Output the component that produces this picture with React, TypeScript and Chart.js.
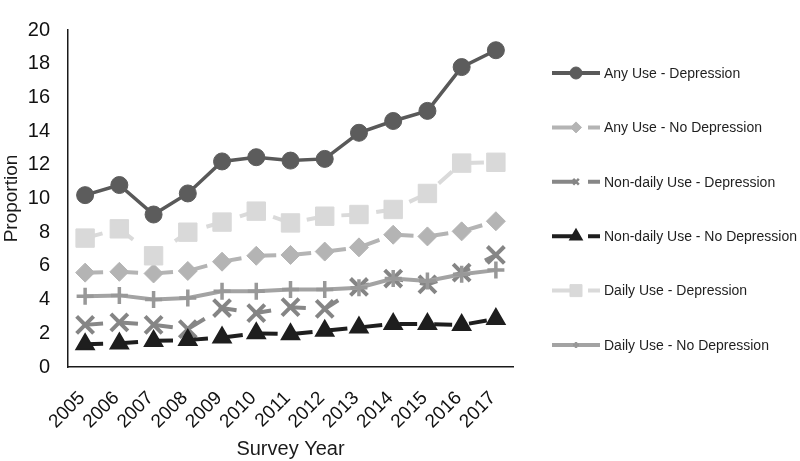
import React, { useEffect, useRef } from "react";
import { Chart, registerables } from "chart.js";
import { drawPoint } from "chart.js/helpers";

Chart.register(...registerables);

const years = ["2005","2006","2007","2008","2009","2010","2011","2012","2013","2014","2015","2016","2017"];
const anyDep = [10.2, 10.8, 9.05, 10.3, 12.2, 12.45, 12.25, 12.35, 13.9, 14.6, 15.2, 17.8, 18.8];
const anyNoDep = [5.6, 5.65, 5.55, 5.7, 6.25, 6.6, 6.65, 6.85, 7.1, 7.85, 7.75, 8.05, 8.65];
const nonDailyDep = [2.5, 2.65, 2.5, 2.25, 3.5, 3.2, 3.55, 3.45, 4.75, 5.25, 4.9, 5.6, 6.65];
const nonDailyNoDep = [1.35, 1.4, 1.55, 1.6, 1.75, 2.0, 1.95, 2.15, 2.35, 2.55, 2.55, 2.5, 2.85];
const dailyDep = [7.65, 8.2, 6.6, 8.0, 8.6, 9.25, 8.55, 8.95, 9.05, 9.35, 10.3, 12.1, 12.15];
const dailyNoDep = [4.2, 4.25, 4.0, 4.1, 4.5, 4.5, 4.6, 4.6, 4.7, 5.25, 5.1, 5.5, 5.75];
const yTicks = [0, 2, 4, 6, 8, 10, 12, 14, 16, 18, 20];

const FONT = "'Liberation Sans', Arial, sans-serif";

type S = {
  label: string; data: number[]; color: string; markColor: string; style: string;
  radius: number; pbw: number; dash: number[]; lr: number;
};

const series: S[] = [
  { label: "Any Use - Depression", data: anyDep, color: "#595959", markColor: "#5c5c5c", style: "circle", radius: 8.5, pbw: 1, dash: [], lr: 6 },
  { label: "Any Use - No Depression", data: anyNoDep, color: "#b4b4b4", markColor: "#b4b4b4", style: "rectRot", radius: 9.5, pbw: 1, dash: [18, 17], lr: 5.5 },
  { label: "Non-daily Use - Depression", data: nonDailyDep, color: "#878787", markColor: "#858585", style: "crossRot", radius: 12, pbw: 4, dash: [18, 17], lr: 4 },
  { label: "Non-daily Use - No Depression", data: nonDailyNoDep, color: "#1e1e1e", markColor: "#1e1e1e", style: "triangle", radius: 10, pbw: 2, dash: [18, 17], lr: 6.5 },
  { label: "Daily Use - Depression", data: dailyDep, color: "#dadada", markColor: "#d9d9d9", style: "rect", radius: 13, pbw: 1, dash: [18, 17], lr: 8.5 },
  { label: "Daily Use - No Depression", data: dailyNoDep, color: "#a3a3a3", markColor: "#989898", style: "cross", radius: 8.5, pbw: 3.5, dash: [], lr: 3 },
];

const legendPlugin = {
  id: "customLegend",
  afterDraw(chart: any) {
    const ctx = chart.ctx as CanvasRenderingContext2D;
    const x0 = 552, x1 = 600, mx = 576, tx = 604;
    const y0 = 73, step = 54.4;
    series.forEach((s, i) => {
      const y = y0 + i * step;
      ctx.save();
      ctx.strokeStyle = s.color;
      ctx.lineWidth = 4;
      ctx.lineCap = "butt";
      ctx.setLineDash(s.dash.length ? [24, 12] : []);
      ctx.beginPath();
      ctx.moveTo(x0, y);
      ctx.lineTo(x1, y);
      ctx.stroke();
      ctx.setLineDash([]);
      ctx.fillStyle = s.markColor;
      ctx.strokeStyle = s.markColor;
      ctx.lineWidth = Math.min(s.pbw, 2.5);
      drawPoint(ctx, { pointStyle: s.style, rotation: 0, radius: s.lr, borderWidth: ctx.lineWidth } as any, mx, y);
      ctx.fillStyle = "#1f1f1f";
      ctx.font = `14px ${FONT}`;
      ctx.textAlign = "left";
      ctx.textBaseline = "middle";
      ctx.fillText(s.label, tx, y + 1);
      ctx.restore();
    });
  },
};

export default function App() {
  const ref = useRef<HTMLCanvasElement>(null);
  useEffect(() => {
    document.body.style.margin = "0";
    const chart = new Chart(ref.current!, {
      type: "line",
      data: {
        labels: years,
        datasets: series.map((s, i) => ({
          label: s.label,
          data: s.data,
          borderColor: s.color,
          backgroundColor: s.markColor,
          borderWidth: i === 0 ? 3.5 : 4,
          borderDash: s.dash,
          pointStyle: s.style as any,
          pointRadius: s.radius,
          pointBorderWidth: s.pbw,
          pointBorderColor: s.markColor,
          pointBackgroundColor: s.markColor,
          tension: 0,
          order: 6 - i,
        })),
      },
      options: {
        responsive: false,
        animation: false,
        layout: { padding: { top: 10, right: 287, left: 0, bottom: 0 } },
        plugins: { legend: { display: false }, tooltip: { enabled: false } },
        scales: {
          x: {
            offset: true,
            grid: { display: false, drawTicks: false },
            border: { display: true, color: "#1a1a1a", width: 1.5 },
            ticks: { color: "#111", font: { family: FONT, size: 19 }, minRotation: 45, maxRotation: 45, autoSkip: false, padding: 20, labelOffset: -3 },
            title: { display: true, text: "Survey Year", color: "#1a1a1a", font: { family: FONT, size: 20 }, padding: { top: 0, bottom: 0 } },
            afterFit: (scale: any) => { scale.height = 94; },
          },
          y: {
            min: 0,
            max: 20,
            afterBuildTicks: (scale: any) => { scale.ticks = yTicks.map((v) => ({ value: v })); },
            grid: { display: false, drawTicks: false },
            border: { display: true, color: "#1a1a1a", width: 1.5 },
            ticks: { color: "#111", font: { family: FONT, size: 20 }, padding: 18 },
            title: { display: true, text: "Proportion", color: "#1a1a1a", font: { family: FONT, size: 19 }, padding: { top: 0, bottom: 0 } },
            afterFit: (scale: any) => { scale.width = 68; },
          },
        },
      },
      plugins: [legendPlugin],
    });
    return () => chart.destroy();
  }, []);
  return <canvas ref={ref} width={800} height={461} style={{ display: "block" }} />;
}
